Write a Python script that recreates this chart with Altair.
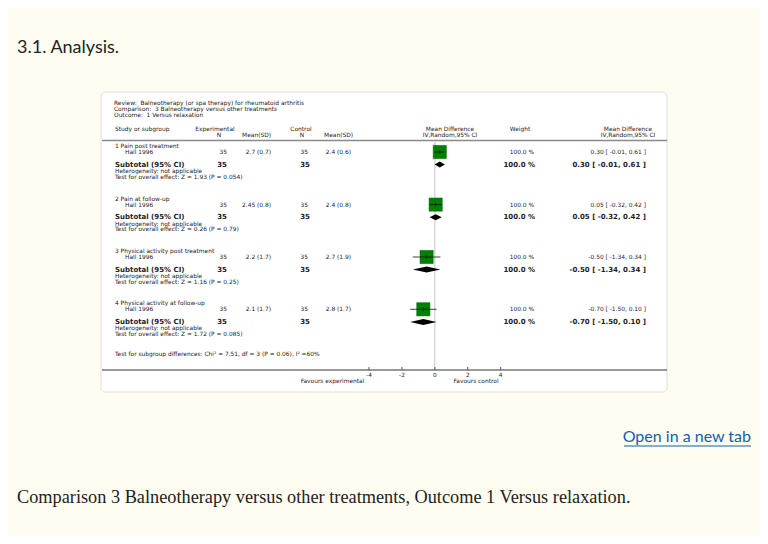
import altair as alt
import pandas as pd

# ---------------- data ----------------
groups = ["1 Pain post treatment", "2 Pain at follow-up",
          "3 Physical activity post treatment", "4 Physical activity at follow-up"]
study = ["Hall 1996", "Hall 1996", "Hall 1996", "Hall 1996"]
exp_n = [35, 35, 35, 35]
exp_mean = [2.7, 2.45, 2.2, 2.1]
exp_sd = [0.7, 0.8, 1.7, 1.7]
ctl_n = [35, 35, 35, 35]
ctl_mean = [2.4, 2.4, 2.7, 2.8]
ctl_sd = [0.6, 0.8, 1.9, 1.7]
md = [0.30, 0.05, -0.50, -0.70]
md_lo = [-0.01, -0.32, -1.34, -1.50]
md_hi = [0.61, 0.42, 0.34, 0.10]
weight = [100.0, 100.0, 100.0, 100.0]
z_val = ["1.93", "0.26", "1.16", "1.72"]
p_val = ["0.054", "0.79", "0.25", "0.085"]
axis_ticks = [-4, -2, 0, 2, 4]

title_lines = ["Review:\u00a0 Balneotherapy (or spa therapy) for rheumatoid arthritis",
               "Comparison:\u00a0 3 Balneotherapy versus other treatments",
               "Outcome:\u00a0 1 Versus relaxation"]
subgroup_test = "Test for subgroup differences: Chi² = 7.51, df = 3 (P = 0.06), I² =60%"

# ---------------- layout helpers ----------------
def X(px):
    return px - 8

def Y(py):
    return py - 8

SMALL = 5.9
BOLD = 7.0
FONT = "DejaVu Sans"
INK = "#222222"

group_base = [146, 198.6, 251, 303.3]
OFF_STUDY, OFF_SUB, OFF_HET, OFF_TEST = 6.0, 18.6, 24.9, 30.7

items = []

def add(t, x, y, style):
    items.append({"t": t, "x": X(x), "y": Y(y), "style": style})

for i, line in enumerate(title_lines):
    add(line, 114, [103.4, 109.3, 115.2][i], "s_left")

# header
add("Study or subgroup", 115, 129, "s_left")
add("Experimental", 215, 129, "s_center")
add("N", 219, 135, "s_center")
add("Mean(SD)", 271, 135, "s_right")
add("Control", 301, 129, "s_center")
add("N", 302, 135, "s_center")
add("Mean(SD)", 353, 135, "s_right")
add("Mean Difference", 450, 129, "s_center")
add("IV,Random,95% CI", 450, 135, "s_center")
add("Weight", 520, 129, "s_center")
add("Mean Difference", 628, 129, "s_center")
add("IV,Random,95% CI", 628, 135, "s_center")

for i, g in enumerate(groups):
    b = group_base[i]
    add(g, 115, b, "s_left")
    add(study[i], 125, b + OFF_STUDY, "s_left")
    add(str(exp_n[i]), 227, b + OFF_STUDY, "s_right")
    add(f"{exp_mean[i]:g} ({exp_sd[i]:g})", 271, b + OFF_STUDY, "s_right")
    add(str(ctl_n[i]), 308, b + OFF_STUDY, "s_right")
    add(f"{ctl_mean[i]:g} ({ctl_sd[i]:g})", 351, b + OFF_STUDY, "s_right")
    add(f"{weight[i]:.1f} %", 534, b + OFF_STUDY, "s_right")
    add(f"{md[i]:.2f} [ {md_lo[i]:.2f}, {md_hi[i]:.2f} ]", 646, b + OFF_STUDY, "s_right")
    add("Subtotal (95% CI)", 115, b + OFF_SUB, "b_left")
    add(str(exp_n[i]), 227, b + OFF_SUB, "b_right")
    add(str(ctl_n[i]), 310, b + OFF_SUB, "b_right")
    add(f"{weight[i]:.1f} %", 535, b + OFF_SUB, "b_right")
    add(f"{md[i]:.2f} [ {md_lo[i]:.2f}, {md_hi[i]:.2f} ]", 646, b + OFF_SUB, "b_right")
    add("Heterogeneity: not applicable", 115, b + OFF_HET, "s_left")
    add(f"Test for overall effect: Z = {z_val[i]} (P = {p_val[i]})", 115, b + OFF_TEST, "s_left")

add(subgroup_test, 115, 354, "s_left")
add("Favours experimental", 332.5, 381, "s_center")
add("Favours control", 476, 381, "s_center")

add("3.1. Analysis.", 17, 48, "page_title")
add("Open in a new tab", 751, 437, "link")
add("Comparison 3 Balneotherapy versus other treatments, Outcome 1 Versus relaxation.", 17, 498, "caption")

tdf = pd.DataFrame(items)

styles = {
    "s_left": dict(align="left", font=FONT, fontSize=SMALL, color=INK),
    "s_right": dict(align="right", font=FONT, fontSize=SMALL, color=INK),
    "s_center": dict(align="center", font=FONT, fontSize=SMALL, color=INK),
    "b_left": dict(align="left", font=FONT, fontSize=BOLD, fontWeight="bold", color=INK),
    "b_right": dict(align="right", font=FONT, fontSize=BOLD, fontWeight="bold", color=INK),
    "page_title": dict(align="left", font="Lato", fontSize=18, color="#222222"),
    "link": dict(align="right", font="Lato", fontSize=16, color="#0b63a9"),
    "caption": dict(align="left", font="Liberation Serif", fontSize=18.3, color="#222222"),
}

px_x = lambda f: alt.X(f, scale=None, axis=None)
px_y = lambda f: alt.Y(f, scale=None, axis=None)

layers = []

# card
card = alt.Chart(pd.DataFrame({"a": [0]})).mark_rect(
    fill="white", stroke="#dedede", strokeWidth=1, cornerRadius=4
).encode(x=alt.value(X(101)), x2=alt.value(X(667)), y=alt.value(Y(92)), y2=alt.value(Y(392)))
layers.append(card)

# header separator and axis line
hline = alt.Chart(pd.DataFrame({"a": [0]})).mark_rule(color="#8a8a8a", strokeWidth=1.5).encode(
    x=alt.value(X(102)), x2=alt.value(X(667)), y=alt.value(Y(140.5)))
axline = alt.Chart(pd.DataFrame({"a": [0]})).mark_rule(color="#777777", strokeWidth=1.5).encode(
    x=alt.value(X(102)), x2=alt.value(X(667)), y=alt.value(Y(370)))
layers += [hline, axline]

fx = alt.Scale(domain=[-4, 4], range=[X(369), X(500.7)])

zero = alt.Chart(pd.DataFrame({"v": [0]})).mark_rule(color="#c4c4c4", strokeWidth=1).encode(
    x=alt.X("v:Q", scale=fx, axis=None), y=alt.value(Y(141.5)), y2=alt.value(Y(369)))
layers.append(zero)

tdf_ticks = pd.DataFrame({"v": axis_ticks, "lab": [str(v) for v in axis_ticks]})
tick_marks = alt.Chart(tdf_ticks).mark_rule(color="#555555", strokeWidth=1).encode(
    x=alt.X("v:Q", scale=fx, axis=None), y=alt.value(Y(367)), y2=alt.value(Y(370)))
tick_labels = alt.Chart(tdf_ticks).mark_text(font=FONT, fontSize=5.8, color=INK, baseline="middle").encode(
    x=alt.X("v:Q", scale=fx, axis=None), y=alt.value(Y(374.5)), text="lab:N")
layers += [tick_marks, tick_labels]

# study rows
sdf = pd.DataFrame({
    "md": md, "lo": md_lo, "hi": md_hi,
    "py": [Y(b + OFF_STUDY) for b in group_base],
})
squares = alt.Chart(sdf).mark_square(size=175, color="#008000", opacity=1, stroke="#006400", strokeWidth=0.5).encode(
    x=alt.X("md:Q", scale=fx, axis=None), y=px_y("py:Q"))
ci = alt.Chart(sdf).mark_rule(color="#111111", strokeWidth=0.8).encode(
    x=alt.X("lo:Q", scale=fx, axis=None), x2="hi:Q", y=px_y("py:Q"))
est_tick = alt.Chart(sdf).mark_tick(color="#111111", thickness=0.8, size=4, orient="vertical").encode(
    x=alt.X("md:Q", scale=fx, axis=None), y=px_y("py:Q"))
layers += [squares, ci, est_tick]

# diamonds for subtotals
drows = []
for i in range(len(groups)):
    yc = Y(group_base[i] + OFF_SUB)
    drows.append({"g": i, "v": md_lo[i], "py": yc, "py2": yc})
    drows.append({"g": i, "v": md[i], "py": yc - 3, "py2": yc + 3})
    drows.append({"g": i, "v": md_hi[i], "py": yc, "py2": yc})
ddf = pd.DataFrame(drows)
diamonds = alt.Chart(ddf).mark_area(color="black", opacity=1, orient="vertical").encode(
    x=alt.X("v:Q", scale=fx, axis=None), y=px_y("py:Q"), y2="py2:Q", detail="g:N")
layers.append(diamonds)

# text layers
for st, kw in styles.items():
    sub = tdf[tdf["style"] == st]
    if len(sub) == 0:
        continue
    layers.append(alt.Chart(sub).mark_text(baseline="middle", **kw).encode(
        x=px_x("x:Q"), y=px_y("y:Q"), text="t:N"))

# underline of link
underline = alt.Chart(pd.DataFrame({"a": [0]})).mark_rule(color="#0b63a9", strokeWidth=1).encode(
    x=alt.value(X(624)), x2=alt.value(X(751)), y=alt.value(Y(446)))
layers.append(underline)

chart = alt.layer(*layers).resolve_scale(x="independent", y="independent").properties(
    width=752, height=528, padding=0,
    autosize=alt.AutoSizeParams(type="fit", contains="padding"),
    background="#fffdf1",
).configure_view(stroke=None)

chart.save("out.html", embed_options={"renderer": "svg", "actions": False})
